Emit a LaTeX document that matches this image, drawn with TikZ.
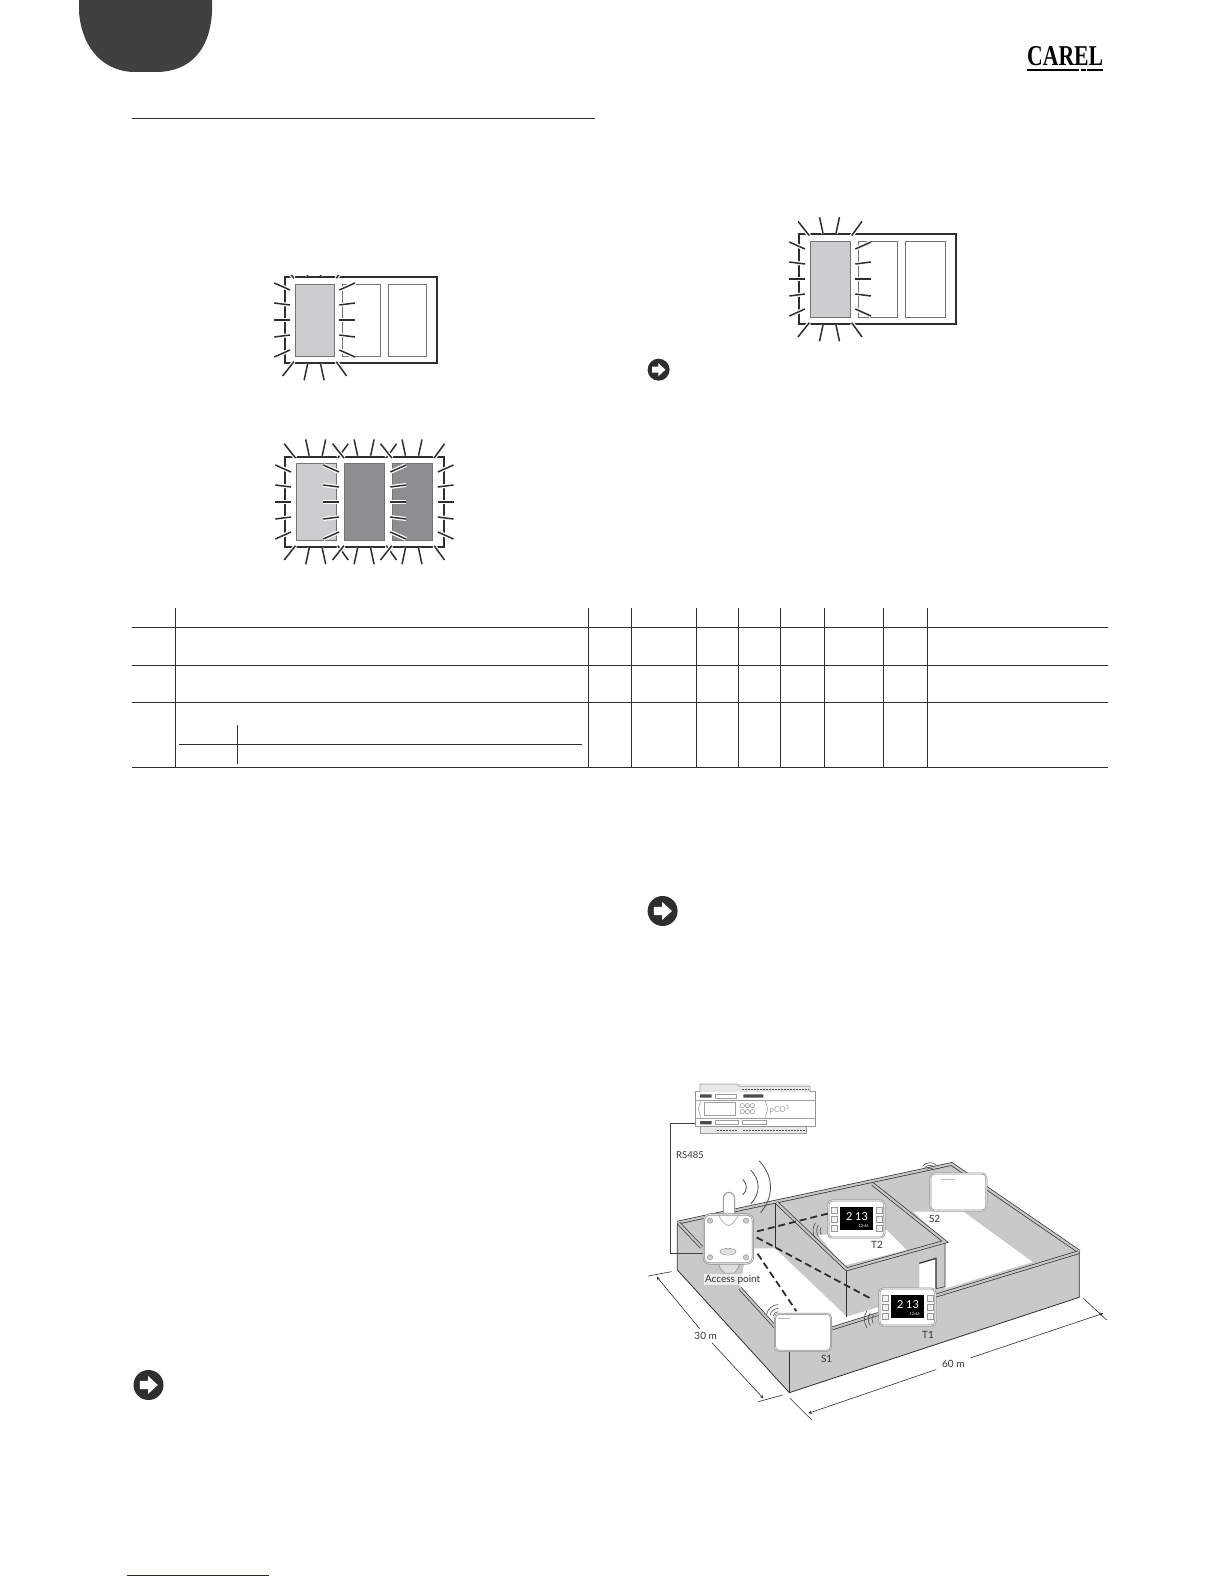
\documentclass[tikz,border=0pt]{standalone}
\usepackage{fontspec}
\usetikzlibrary{arrows}
\newfontfamily\scenefont{Lato}
\newfontfamily\logofont{Liberation Serif}
\definecolor{tabgray}{HTML}{404040}
\definecolor{wallgray}{HTML}{C8CACA}
\definecolor{panelgray}{HTML}{CBCDCE}
\definecolor{darkpanel}{HTML}{8C8E8F}
\definecolor{inkgray}{HTML}{2E2E2E}
\definecolor{linkblue}{HTML}{1A1A8C}

\tikzset{
  framepen/.style={draw=inkgray,line width=1.7pt},
  panelpen/.style={draw=gray!90!black,line width=1pt},
  raypen/.style={draw=inkgray,line width=1.5pt,preaction={draw=white,line width=4pt}},
  rulepen/.style={draw=inkgray,line width=.9pt},
  wallband/.style={draw=inkgray,line width=.7pt,double=gray!45,double distance=2.2pt},
  wavepen/.style={draw=gray!60!black,line width=.6pt},
  dimpen/.style={draw=inkgray,line width=.6pt},
  devpen/.style={draw=gray!75,line width=.6pt},
  linkdash/.style={draw=inkgray,line width=1.8pt,dash pattern=on 7pt off 4pt},
  scenelabel/.style={font=\scenefont\fontsize{10}{10}\selectfont,text=gray!40!black,inner sep=1pt},
  unitbox/.style={draw=gray!90,line width=.5pt,double=gray!30,double distance=.9pt,fill=white,rounded corners=4pt,minimum width=56pt,minimum height=37pt,inner sep=0pt},
  unitscreen/.style={fill=black,minimum width=33pt,minimum height=23pt,inner sep=0pt},
  unitkey/.style={draw=gray!80,fill=gray!10,line width=.4pt,minimum size=6pt,inner sep=0pt},
  apbox/.style={draw=gray!90,line width=.6pt,double=gray!30,double distance=.9pt,fill=white,rounded corners=6pt,minimum size=49pt,inner sep=0pt},
  pcobody/.style={draw=gray!85,line width=.8pt,fill=white,minimum width=120pt,minimum height=35pt,inner sep=0pt}
}

\newcommand{\raysleft}[2]{\foreach \ya/\yb in {-30/-37,-15/-17,0/0,15/17,30/37}
  \draw[raypen] (#1-5.3,#2+\ya) -- (#1-21,#2+\yb);}
\newcommand{\raysright}[2]{\foreach \ya/\yb in {-30/-37,-15/-17,0/0,15/17,30/37}
  \draw[raypen] (#1+5.3,#2+\ya) -- (#1+21,#2+\yb);}
\newcommand{\raystop}[2]{\foreach \xa/\xb/\da/\db in {-20.7/-32/5.7/20,-7/-10.5/8/24.3,6/9.5/8/24.3,21.7/32/5.7/20}
  \draw[raypen] (#1+\xa,#2-\da) -- (#1+\xb,#2-\db);}
\newcommand{\raysbottom}[2]{\foreach \xa/\xb/\da/\db in {-20.7/-32/5.7/20,-7/-10.5/8/24.3,6/9.5/8/24.3,21.7/32/5.7/20}
  \draw[raypen] (#1+\xa,#2+\da) -- (#1+\xb,#2+\db);}

\newcommand{\noteicon}[3]{
  \fill[inkgray] (#1,#2) circle (#3);
  \fill[white] (#1,#2) ++(-.58*#3,-.27*#3) -- ++(.55*#3,0) -- ++(0,-.33*#3) -- ++(.65*#3,.6*#3)
    -- ++(-.65*#3,.6*#3) -- ++(0,-.33*#3) -- ++(-.55*#3,0) -- cycle;
}

\newcommand{\thermounit}[3]{
  \node[unitbox] (#1) at (#2,#3) {};
  \node[unitscreen] (#1screen) at (#2+2,#3-2) {};
  \node[font=\scenefont\fontsize{11}{11}\selectfont,text=white,inner sep=0pt] (#1temp) at (#2+2,#3-7) {2 13};
  \node[font=\scenefont\fontsize{4}{4}\selectfont,text=white,inner sep=0pt] (#1time) at (#2+22,#3+20) {12:46};
  \foreach \ky in {-27,0,27} {
    \node[unitkey] at (#2-67,#3+\ky) {};
    \node[unitkey] at (#2+68,#3+\ky) {};
  }
}

\newcommand{\wavemark}[5]{\foreach \rr in {#5}
  \draw[wavepen] (#1,#2) ++(#3:\rr) arc[start angle=#3,end angle=#4,radius=\rr];}

\begin{document}
\begin{tikzpicture}[x=1pt,y=-1pt]
  \path[use as bounding box] (0,0) rectangle (1224,1584);

  \fill[tabgray] (79,0) -- (79,12) .. controls (82,50) and (105,72) .. (135,72) -- (156,72)
    .. controls (190,72) and (210,50) .. (212,12) -- (212,0) -- cycle;

  \node[inner sep=0pt,anchor=north west] (logo) at (1027,46.5) {\resizebox{76pt}{19pt}{\logofont\bfseries CAREL}};
  \draw[black,line width=2pt] (1027,70.5) -- (1079,70.5) (1080.5,70.5) -- (1085.5,70.5) (1087,70.5) -- (1103,70.5);

  \draw[rulepen] (132,118.5) -- (595,118.5);

  \draw[framepen] (285,277) rectangle (437,363);
  \fill[panelgray] (295.3,284) rectangle (334,356);
  \draw[panelpen] (295.3,284) rectangle (334,356);
  \draw[panelpen] (342,284) rectangle (380.3,356);
  \draw[panelpen] (388.7,284) rectangle (426.7,356);
  \raysleft{295.3}{320}
  \raysright{334}{320}
  \raystop{314.6}{284}
  \raysbottom{314.6}{356}
  \fill[white] (270,245) rectangle (355,274.5);

  \draw[framepen] (285,456.7) rectangle (444,546.7);
  \fill[panelgray] (296.3,463.7) rectangle (336,540);
  \draw[panelpen] (296.3,463.7) rectangle (336,540);
  \foreach \bx in {344.3,392.7} {
    \fill[darkpanel] (\bx,463.7) rectangle ++(40,76.3);
    \draw[panelpen] (\bx,463.7) rectangle ++(40,76.3);
  }
  \foreach \bx in {316.2,364.6,412.5} {
    \raystop{\bx}{463.7}
    \raysbottom{\bx}{540}
  }
  \raysleft{296.3}{502}
  \raysleft{344.3}{502}
  \raysright{385}{502}
  \raysright{432.5}{502}

  \draw[framepen] (799.3,234) rectangle (956,324);
  \fill[panelgray] (810.3,241.3) rectangle (850,317);
  \draw[panelpen] (810.3,241.3) rectangle (850,317);
  \draw[panelpen] (858,241.3) rectangle (897.3,317);
  \draw[panelpen] (905.7,241.3) rectangle (945.3,317);
  \raysleft{810.3}{279}
  \raysright{850}{279}
  \raystop{830}{241.3}
  \raysbottom{830}{317}

  \noteicon{658.6}{369.7}{11}
  \noteicon{662.6}{911}{15}
  \noteicon{148.5}{1385}{15}

  \foreach \ty in {627.3,665.3,702.3,767.3}
    \draw[rulepen] (132.3,\ty) -- (1108,\ty);
  \foreach \tx in {175.3,588.5,631.3,696,738.4,780.8,824.2,883.8,927.3}
    \draw[rulepen] (\tx,607.7) -- (\tx,767.3);
  \draw[rulepen] (179,744.3) -- (581.7,744.3);
  \draw[rulepen] (237.3,725) -- (237.3,764);

  \draw[linkblue,line width=1pt] (127.3,1575) -- (269,1575);

  \begin{scope}[shift={(630,1060)},x=.3333pt,y=-.3333pt]
    \filldraw[fill=wallgray,draw=inkgray,line width=.8pt] (142,488) -- (965,310) -- (1348,575) -- (1348,712) -- (478,998) -- (142,630) -- cycle;

    \begin{scope}[every path/.style={fill=white}]
      \path (350,565) -- (435,565) -- (650,770) -- (745,742) -- (745,768) -- (610,805) -- (430,795) -- (330,685) -- cycle;
      \path (565,525) -- (770,510) -- (830,570) -- (640,617) -- cycle;
      \path (850,455) -- (1000,455) -- (1208,606) -- (945,686) -- (945,545) -- cycle;
      \path (868,610) -- (918,595) -- (918,685) -- (868,702) -- cycle;
    \end{scope}

    \draw[draw=inkgray,line width=.6pt] (435,430) -- (435,565);
    \draw[draw=inkgray,line width=.6pt] (650,630) -- (650,770);
    \draw[draw=inkgray,line width=.6pt] (945,545) -- (945,680) -- (918,686);
    \draw[draw=inkgray,line width=.6pt] (478,870) -- (478,998);
    \draw[draw=inkgray,line width=1.2pt] (868,610) -- (918,595) -- (918,685);

    \draw[wallband] (142,488) -- (965,312) -- (1348,575);
    \draw[wallband] (146,490) -- (215,562);
    \draw[wallband] (330,685) -- (435,800);
    \draw[wallband] (607,805) -- (745,762);
    \draw[wallband] (917,707) -- (1345,577);
    \draw[wallband] (440,428) -- (650,628) -- (945,545) -- (728,372);

    \draw[wavepen,line width=.8pt] (338,358) .. controls (353,375) and (353,390) .. (338,405);
    \draw[wavepen,line width=.8pt] (362,330) .. controls (392,360) and (392,400) .. (362,432);
    \draw[wavepen,line width=.8pt] (388,303) .. controls (432,350) and (432,410) .. (392,458);
    \wavemark{590}{512}{145}{215}{20,30,41}
    \wavemark{748}{778}{145}{215}{22,33,45}
    \wavemark{445}{770}{190}{270}{15,25,36}
    \wavemark{900}{336}{220}{310}{12,20,28}

    \coordinate (d30a) at (80,650);
    \coordinate (d30b) at (400,1015);
    \coordinate (d60a) at (535,1060);
    \coordinate (d60b) at (1420,760);
    \draw[dimpen] (55,648) -- (125,635);
    \draw[dimpen] (385,1025) -- (458,1005);
    \draw[dimpen] (480,1015) -- (545,1080);
    \draw[dimpen] (1360,715) -- (1430,780);
    \node[scenelabel] (d30) at (227,828) {30 m};
    \node[scenelabel] (d60) at (970,911) {60 m};
    \path (d30) edge[dimpen,->,>=stealth,shorten <=3pt] (d30a);
    \path (d30) edge[dimpen,->,>=stealth,shorten <=3pt] (d30b);
    \path (d60) edge[dimpen,->,>=stealth,shorten <=5pt] (d60a);
    \path (d60) edge[dimpen,->,>=stealth,shorten <=5pt] (d60b);

    \node[pcobody] (pco) at (376,146) {};
    \fill[gray!18] (210,72) rectangle (540,95);
    \fill[gray!18] (210,200) rectangle (530,221);
    \draw[devpen] (195,95) -- (210,95) -- (210,72) -- (320,72) -- (330,80) -- (540,80) -- (540,95) -- (557,95);
    \draw[devpen] (195,200) -- (210,200) -- (210,221) -- (530,221) -- (530,200) -- (557,200);
    \draw[draw=gray!60!black,line width=1.3pt,dash pattern=on 2pt off 1pt] (335,88) -- (535,88) (340,211) -- (525,211) (260,211) -- (320,211);
    \draw[devpen] (197,120) -- (555,120) (197,176) -- (555,176);
    \fill[gray!60!black] (210,103) rectangle (245,113) (340,103) rectangle (400,113) (210,183) rectangle (245,193);
    \draw[devpen] (255,103) rectangle (320,115) (255,180) rectangle (325,192) (338,180) rectangle (408,192);
    \draw[devpen] (222,127) rectangle (315,167);
    \draw[devpen] (213,122) .. controls (203,147) .. (213,172);
    \draw[devpen] (405,122) .. controls (415,147) .. (405,172);
    \foreach \kx in {337,352,367} \foreach \ky in {137,155} \draw[devpen] (\kx,\ky) circle (6.5);
    \node[font=\scenefont\fontsize{8}{8}\selectfont,text=gray!75,inner sep=0pt] (pconame) at (449,149) {pCO\textsuperscript{3}};

    \coordinate (pcoport) at (195,190);
    \draw[draw=gray!50!black,line width=.7pt] (pcoport) -- ++(-73,0) |- (295,580);
    \node[scenelabel,font=\scenefont\fontsize{9.5}{9.5}\selectfont] (rslabel) at (180,285) {RS485};

    \draw[devpen,line width=1.1pt,fill=white,rounded corners=6pt] (280,470) -- (280,397) -- (314,397) -- (314,470);
    \draw[devpen,line width=.8pt,fill=gray!25] (265,610) -- (272,628) -- (285,640) -- (312,640) -- (322,628) -- (330,610) -- cycle;
    \node[apbox] (ap) at (295,537) {};
    \foreach \sx in {240,348} \foreach \sy in {482,592} \draw[devpen,fill=gray!40] (\sx,\sy) circle (8);
    \draw[devpen] (265,465) .. controls (280,490) .. (295,497) .. controls (310,490) .. (325,465);
    \draw[devpen,fill=gray!25] (294,575) ellipse (24 and 10);
    \node[scenelabel,fill=white,fill opacity=.65,text opacity=1] (aplabel) at (308,660) {Access point};

    \thermounit{t2}{679}{477}
    \thermounit{t1}{832}{741}
    \node[unitbox] (s1) at (519,817) {};
    \node[unitbox] (s2) at (985,396) {};
    \fill[gray!55] (445,773) rectangle (480,776);
    \fill[gray!55] (932,356) rectangle (975,359);

    \node[scenelabel] (t2name) at (741,554) {T2};
    \node[scenelabel] (t1name) at (894,824) {T1};
    \node[scenelabel] (s1name) at (590,897) {S1};
    \node[scenelabel] (s2name) at (914,477) {S2};

    \path (ap.15) edge[linkdash,shorten <=4pt] (t2.169);
    \path (ap.8) edge[linkdash,shorten <=4pt,shorten >=7pt] (t1.172);
    \path (ap.-18) edge[linkdash,shorten <=8pt,shorten >=3pt] (s1.105);
  \end{scope}
\end{tikzpicture}
\end{document}
